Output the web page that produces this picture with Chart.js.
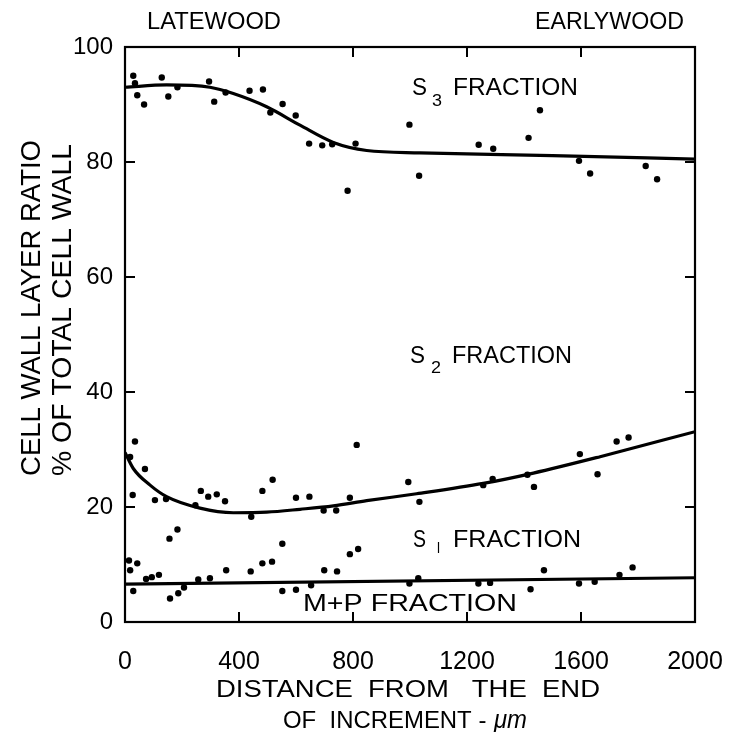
<!DOCTYPE html>
<html>
<head>
<meta charset="utf-8">
<script src="https://cdn.jsdelivr.net/npm/chart.js@4.4.1/dist/chart.umd.min.js"></script>
<style>
html,body{margin:0;padding:0;background:#fff;}
#wrap{width:730px;height:732px;position:relative;}
</style>
</head>
<body>
<div id="wrap"><canvas id="c"></canvas></div>
<script>
// ---- data ----
const s3X = [29,35,43,67,129,152,184,295,313,353,437,484,510,553,599,646,692,727,781,809,998,1032,1241,1292,1416,1456,1593,1632,1827,1867];
const s3Y = [95.0,93.7,91.6,90.0,94.7,91.4,93.0,94.0,90.5,92.1,92.4,92.6,88.6,90.1,88.1,83.2,82.9,83.1,75.0,83.2,86.5,77.6,83.0,82.3,84.2,89.0,80.2,78.0,79.3,77.0];

const s2X = [18,35,27,70,105,144,247,266,292,322,351,443,482,518,600,647,697,741,789,813,994,1033,1257,1290,1412,1435,1596,1658,1725,1767];
const s2Y = [28.7,31.4,22.1,26.6,21.2,21.4,20.3,22.8,21.8,22.2,21.0,18.3,22.8,24.75,21.6,21.8,19.4,19.4,21.6,30.8,24.35,20.9,23.8,24.9,25.6,23.5,29.2,25.7,31.4,32.1];

const s1X = [14,18,43,29,74,94,119,158,187,207,156,184,257,298,355,441,482,516,552,552,600,653,699,744,789,818,998,1029,1240,1281,1423,1470,1593,1648,1735,1781];
const s1Y = [10.7,9.0,10.2,5.4,7.5,7.8,8.2,4.1,5.0,6.0,14.5,16.1,7.4,7.6,9.0,8.8,10.2,10.5,13.6,5.4,5.6,6.4,9.0,8.8,11.8,12.7,6.7,7.6,6.7,6.8,5.7,9.0,6.7,7.0,8.2,9.5];

const s3CurveX = [0,146,298,380,497,614,731,848,1035,1500,2000];
const s3CurveY = [93.0,93.4,93.0,91.9,89.6,86.4,83.4,82.0,81.6,81.1,80.5];

const s2CurveX = [0,29,88,146,263,380,497,614,731,848,1023,1257,1433,1667,2000];
const s2CurveY = [29.5,26.7,23.8,21.8,19.8,19.0,19.1,19.6,20.2,21.1,22.3,24.1,25.9,28.75,33.1];

const mpCurveX = [0,2000];
const mpCurveY = [6.6,7.7];

const xTicks = [0,400,800,1200,1600,2000];
const yTicks = [0,20,40,60,80,100];
const innerTicksX = [400,800,1200,1600];
const innerTicksY = [20,40,60,80];

const zip = (xs, ys) => xs.map((x, i) => ({x: x, y: ys[i]}));
const FONT = '"Liberation Sans", Arial, sans-serif';

function fitText(ctx, str, x, y, width, size, opts) {
  opts = opts || {};
  ctx.save();
  ctx.font = (opts.italic ? 'italic ' : '') + size + 'px ' + FONT;
  const w = ctx.measureText(str).width;
  ctx.translate(x, y);
  if (opts.rot) ctx.rotate(opts.rot);
  ctx.scale(width ? width / w : 1, 1);
  ctx.textAlign = 'left';
  ctx.textBaseline = 'alphabetic';
  ctx.fillStyle = '#000';
  ctx.fillText(str, 0, 0);
  ctx.restore();
}

const framePlugin = {
  id: 'frame',
  afterDatasetsDraw(chart) {
    const ctx = chart.ctx, a = chart.chartArea;
    const xs = chart.scales.x, ys = chart.scales.y;
    ctx.save();
    ctx.strokeStyle = '#000';
    ctx.lineWidth = 2.2;
    ctx.strokeRect(a.left, a.top, a.right - a.left, a.bottom - a.top);
    ctx.lineWidth = 2;
    const L = 10;
    innerTicksX.forEach(v => {
      const px = xs.getPixelForValue(v);
      ctx.beginPath();
      ctx.moveTo(px, a.bottom); ctx.lineTo(px, a.bottom - L);
      ctx.moveTo(px, a.top); ctx.lineTo(px, a.top + L);
      ctx.stroke();
    });
    innerTicksY.forEach(v => {
      const py = ys.getPixelForValue(v);
      ctx.beginPath();
      ctx.moveTo(a.left, py); ctx.lineTo(a.left + L, py);
      ctx.moveTo(a.right, py); ctx.lineTo(a.right - L, py);
      ctx.stroke();
    });
    ctx.restore();

    // labels
    fitText(ctx, 'LATEWOOD', 147, 28.5, 134, 23);
    fitText(ctx, 'EARLYWOOD', 535, 28.5, 149, 23);

    fitText(ctx, 'S', 412, 95, 15, 24);
    fitText(ctx, '3', 432, 106, 10, 17);
    fitText(ctx, 'FRACTION', 453, 95, 125, 23);

    fitText(ctx, 'S', 410, 363, 15, 24);
    fitText(ctx, '2', 431, 373, 10, 17);
    fitText(ctx, 'FRACTION', 452, 363, 120, 23);

    fitText(ctx, 'S', 413, 547, 13, 24);
    fitText(ctx, 'l', 437, 553, 3, 14);
    fitText(ctx, 'FRACTION', 453, 547, 128, 23);

    fitText(ctx, 'M+P FRACTION', 303, 611, 214, 24);

    fitText(ctx, 'DISTANCE  FROM   THE  END', 216, 697, 384, 24);
    fitText(ctx, 'OF  INCREMENT - ', 283, 728, 210, 24);
    fitText(ctx, 'μm', 494, 728, 33, 26, {italic: true});

    fitText(ctx, 'CELL WALL LAYER RATIO', 40, 476, 336, 28, {rot: -Math.PI / 2});
    fitText(ctx, '% OF TOTAL CELL WALL', 71, 476, 332, 28, {rot: -Math.PI / 2});
  }
};

const pointStyle = {
  type: 'scatter', showLine: false, pointRadius: 3.2, pointHoverRadius: 3.2,
  backgroundColor: '#000', borderColor: '#000', borderWidth: 0
};
const lineStyle = {
  type: 'scatter', showLine: true, pointRadius: 0, borderColor: '#000',
  borderWidth: 3.2, cubicInterpolationMode: 'monotone', fill: false
};

new Chart(document.getElementById('c'), {
  type: 'scatter',
  data: {
    datasets: [
      Object.assign({label: 'S3 boundary', data: zip(s3X, s3Y)}, pointStyle),
      Object.assign({label: 'S2/S1 boundary', data: zip(s2X, s2Y)}, pointStyle),
      Object.assign({label: 'S1/M+P boundary', data: zip(s1X, s1Y)}, pointStyle),
      Object.assign({label: 'S3 curve', data: zip(s3CurveX, s3CurveY)}, lineStyle),
      Object.assign({label: 'S2 curve', data: zip(s2CurveX, s2CurveY)}, lineStyle),
      Object.assign({label: 'M+P curve', data: zip(mpCurveX, mpCurveY)}, lineStyle, {cubicInterpolationMode: 'default', tension: 0})
    ]
  },
  options: {
    responsive: true,
    maintainAspectRatio: false,
    animation: false,
    layout: {padding: {top: 47, right: 35, left: 0, bottom: 0}},
    plugins: {legend: {display: false}, tooltip: {enabled: false}},
    scales: {
      x: {
        type: 'linear', min: 0, max: 2000,
        afterBuildTicks: s => { s.ticks = xTicks.map(v => ({value: v})); },
        afterFit: s => { s.height = 110; s.paddingLeft = 0; s.paddingRight = 0; },
        grid: {display: false}, border: {display: false},
        ticks: {color: '#000', font: {family: FONT, size: 25}, padding: 17, maxRotation: 0, autoSkip: false,
                callback: v => String(v)}
      },
      y: {
        type: 'linear', min: 0, max: 100,
        afterBuildTicks: s => { s.ticks = yTicks.map(v => ({value: v})); },
        afterFit: s => { s.width = 125; s.paddingTop = 0; s.paddingBottom = 0; },
        grid: {display: false}, border: {display: false},
        ticks: {color: '#000', font: {family: FONT, size: 24}, padding: 4, callback: v => String(v)}
      }
    }
  },
  plugins: [framePlugin]
});
</script>
</body>
</html>
